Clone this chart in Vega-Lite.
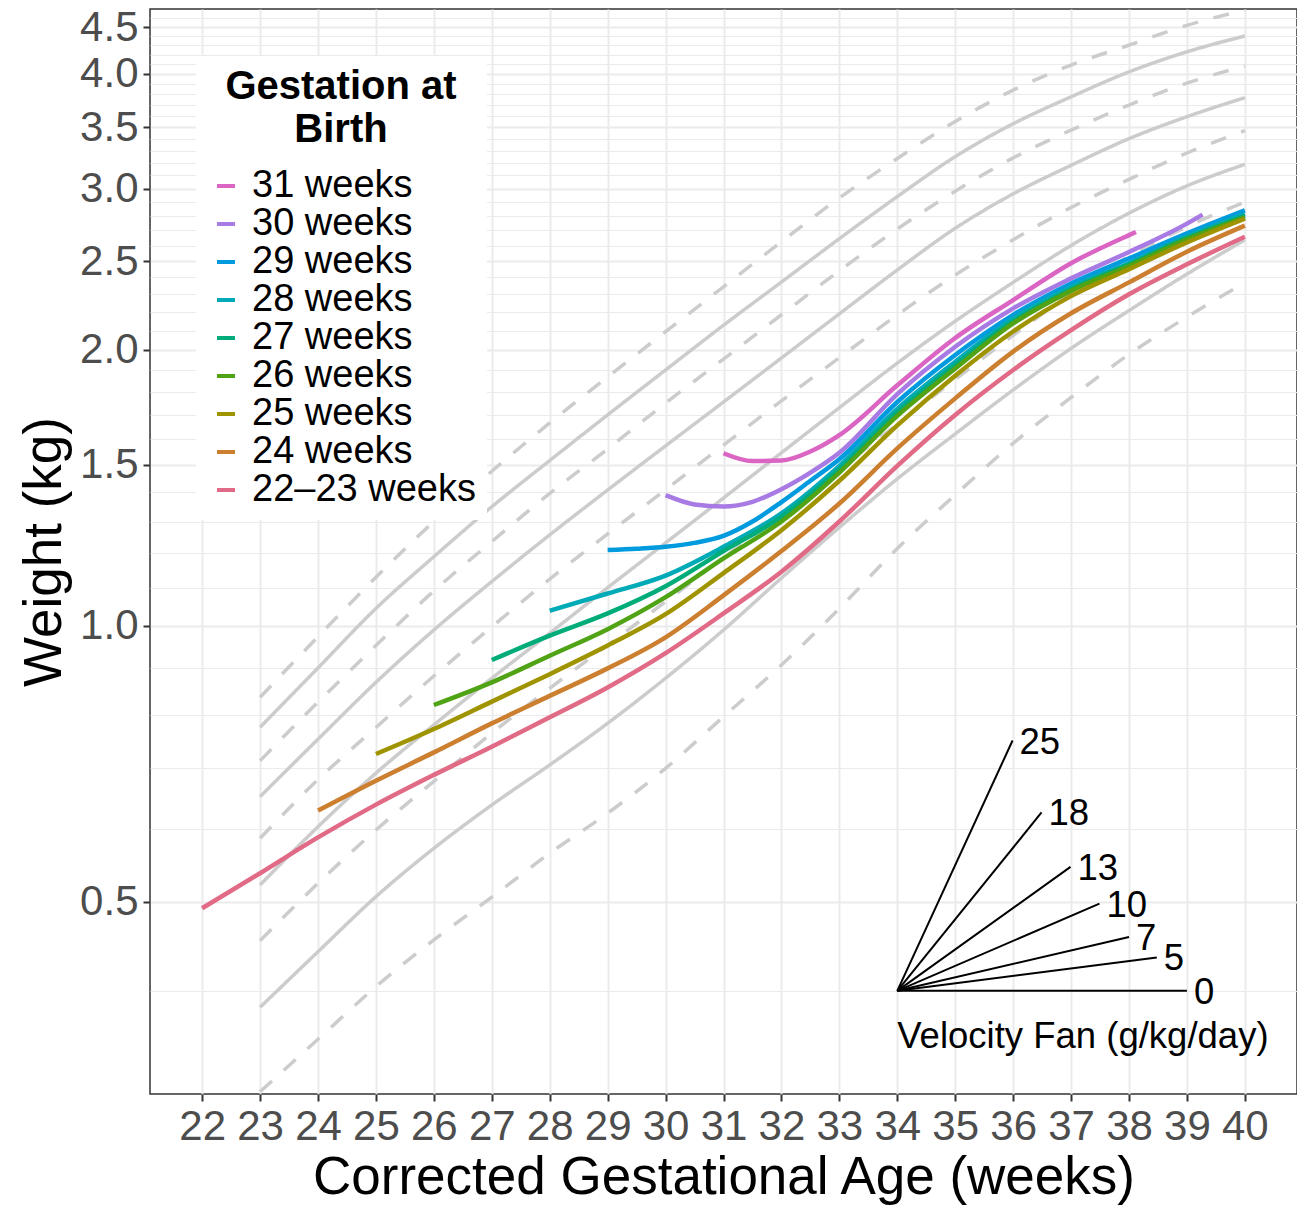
{
  "$schema": "https://vega.github.io/schema/vega-lite/v6.json",
  "width": 1147,
  "height": 1085,
  "autosize": {"type": "none"},
  "padding": {"left": 150, "top": 9, "right": 0, "bottom": 111},
  "background": "white",
  "config": {
    "font": "Liberation Sans",
    "view": {"stroke": "#333333", "strokeWidth": 1.5}
  },
  "datasets": {
    "ref": [
      {"c":"C1","t":"dashed","week":23,"w":0.3105},{"c":"C1","t":"dashed","week":24,"w":0.3542},{"c":"C1","t":"dashed","week":25,"w":0.4042},{"c":"C1","t":"dashed","week":26,"w":0.4546},{"c":"C1","t":"dashed","week":27,"w":0.5061},{"c":"C1","t":"dashed","week":28,"w":0.5651},{"c":"C1","t":"dashed","week":29,"w":0.6248},{"c":"C1","t":"dashed","week":30,"w":0.6995},{"c":"C1","t":"dashed","week":31,"w":0.7963},{"c":"C1","t":"dashed","week":32,"w":0.9067},{"c":"C1","t":"dashed","week":33,"w":1.045},{"c":"C1","t":"dashed","week":34,"w":1.215},{"c":"C1","t":"dashed","week":35,"w":1.39},{"c":"C1","t":"dashed","week":36,"w":1.582},{"c":"C1","t":"dashed","week":37,"w":1.775},{"c":"C1","t":"dashed","week":38,"w":1.978},{"c":"C1","t":"dashed","week":39,"w":2.173},{"c":"C1","t":"dashed","week":40,"w":2.368},
      {"c":"C2","t":"solid","week":23,"w":0.3838},{"c":"C2","t":"solid","week":24,"w":0.4413},{"c":"C2","t":"solid","week":25,"w":0.5067},{"c":"C2","t":"solid","week":26,"w":0.5721},{"c":"C2","t":"solid","week":27,"w":0.6379},{"c":"C2","t":"solid","week":28,"w":0.7054},{"c":"C2","t":"solid","week":29,"w":0.7832},{"c":"C2","t":"solid","week":30,"w":0.877},{"c":"C2","t":"solid","week":31,"w":0.99},{"c":"C2","t":"solid","week":32,"w":1.128},{"c":"C2","t":"solid","week":33,"w":1.281},{"c":"C2","t":"solid","week":34,"w":1.447},{"c":"C2","t":"solid","week":35,"w":1.62},{"c":"C2","t":"solid","week":36,"w":1.809},{"c":"C2","t":"solid","week":37,"w":2.008},{"c":"C2","t":"solid","week":38,"w":2.208},{"c":"C2","t":"solid","week":39,"w":2.42},{"c":"C2","t":"solid","week":40,"w":2.636},
      {"c":"C3","t":"dashed","week":23,"w":0.4537},{"c":"C3","t":"dashed","week":24,"w":0.524},{"c":"C3","t":"dashed","week":25,"w":0.599},{"c":"C3","t":"dashed","week":26,"w":0.677},{"c":"C3","t":"dashed","week":27,"w":0.764},{"c":"C3","t":"dashed","week":28,"w":0.855},{"c":"C3","t":"dashed","week":29,"w":0.953},{"c":"C3","t":"dashed","week":30,"w":1.063},{"c":"C3","t":"dashed","week":31,"w":1.187},{"c":"C3","t":"dashed","week":32,"w":1.325},{"c":"C3","t":"dashed","week":33,"w":1.483},{"c":"C3","t":"dashed","week":34,"w":1.66},{"c":"C3","t":"dashed","week":35,"w":1.858},{"c":"C3","t":"dashed","week":36,"w":2.075},{"c":"C3","t":"dashed","week":37,"w":2.305},{"c":"C3","t":"dashed","week":38,"w":2.53},{"c":"C3","t":"dashed","week":39,"w":2.726},{"c":"C3","t":"dashed","week":40,"w":2.9},
      {"c":"C4","t":"solid","week":23,"w":0.5218},{"c":"C4","t":"solid","week":24,"w":0.604},{"c":"C4","t":"solid","week":25,"w":0.691},{"c":"C4","t":"solid","week":26,"w":0.78},{"c":"C4","t":"solid","week":27,"w":0.877},{"c":"C4","t":"solid","week":28,"w":0.982},{"c":"C4","t":"solid","week":29,"w":1.101},{"c":"C4","t":"solid","week":30,"w":1.232},{"c":"C4","t":"solid","week":31,"w":1.379},{"c":"C4","t":"solid","week":32,"w":1.545},{"c":"C4","t":"solid","week":33,"w":1.73},{"c":"C4","t":"solid","week":34,"w":1.935},{"c":"C4","t":"solid","week":35,"w":2.15},{"c":"C4","t":"solid","week":36,"w":2.37},{"c":"C4","t":"solid","week":37,"w":2.6},{"c":"C4","t":"solid","week":38,"w":2.82},{"c":"C4","t":"solid","week":39,"w":3.02},{"c":"C4","t":"solid","week":40,"w":3.188},
      {"c":"C5","t":"dashed","week":23,"w":0.5868},{"c":"C5","t":"dashed","week":24,"w":0.68},{"c":"C5","t":"dashed","week":25,"w":0.775},{"c":"C5","t":"dashed","week":26,"w":0.882},{"c":"C5","t":"dashed","week":27,"w":0.998},{"c":"C5","t":"dashed","week":28,"w":1.125},{"c":"C5","t":"dashed","week":29,"w":1.26},{"c":"C5","t":"dashed","week":30,"w":1.408},{"c":"C5","t":"dashed","week":31,"w":1.575},{"c":"C5","t":"dashed","week":32,"w":1.76},{"c":"C5","t":"dashed","week":33,"w":1.962},{"c":"C5","t":"dashed","week":34,"w":2.184},{"c":"C5","t":"dashed","week":35,"w":2.414},{"c":"C5","t":"dashed","week":36,"w":2.638},{"c":"C5","t":"dashed","week":37,"w":2.86},{"c":"C5","t":"dashed","week":38,"w":3.07},{"c":"C5","t":"dashed","week":39,"w":3.28},{"c":"C5","t":"dashed","week":40,"w":3.469},
      {"c":"C6","t":"solid","week":23,"w":0.6514},{"c":"C6","t":"solid","week":24,"w":0.7525},{"c":"C6","t":"solid","week":25,"w":0.868},{"c":"C6","t":"solid","week":26,"w":0.99},{"c":"C6","t":"solid","week":27,"w":1.118},{"c":"C6","t":"solid","week":28,"w":1.257},{"c":"C6","t":"solid","week":29,"w":1.407},{"c":"C6","t":"solid","week":30,"w":1.572},{"c":"C6","t":"solid","week":31,"w":1.755},{"c":"C6","t":"solid","week":32,"w":1.96},{"c":"C6","t":"solid","week":33,"w":2.19},{"c":"C6","t":"solid","week":34,"w":2.445},{"c":"C6","t":"solid","week":35,"w":2.715},{"c":"C6","t":"solid","week":36,"w":2.96},{"c":"C6","t":"solid","week":37,"w":3.18},{"c":"C6","t":"solid","week":38,"w":3.4},{"c":"C6","t":"solid","week":39,"w":3.593},{"c":"C6","t":"solid","week":40,"w":3.769},
      {"c":"C7","t":"dashed","week":23,"w":0.713},{"c":"C7","t":"dashed","week":24,"w":0.826},{"c":"C7","t":"dashed","week":25,"w":0.952},{"c":"C7","t":"dashed","week":26,"w":1.092},{"c":"C7","t":"dashed","week":27,"w":1.236},{"c":"C7","t":"dashed","week":28,"w":1.395},{"c":"C7","t":"dashed","week":29,"w":1.56},{"c":"C7","t":"dashed","week":30,"w":1.75},{"c":"C7","t":"dashed","week":31,"w":1.955},{"c":"C7","t":"dashed","week":32,"w":2.185},{"c":"C7","t":"dashed","week":33,"w":2.44},{"c":"C7","t":"dashed","week":34,"w":2.71},{"c":"C7","t":"dashed","week":35,"w":2.98},{"c":"C7","t":"dashed","week":36,"w":3.24},{"c":"C7","t":"dashed","week":37,"w":3.474},{"c":"C7","t":"dashed","week":38,"w":3.7},{"c":"C7","t":"dashed","week":39,"w":3.909},{"c":"C7","t":"dashed","week":40,"w":4.081},
      {"c":"C8","t":"solid","week":23,"w":0.7754},{"c":"C8","t":"solid","week":24,"w":0.9},{"c":"C8","t":"solid","week":25,"w":1.045},{"c":"C8","t":"solid","week":26,"w":1.19},{"c":"C8","t":"solid","week":27,"w":1.349},{"c":"C8","t":"solid","week":28,"w":1.515},{"c":"C8","t":"solid","week":29,"w":1.699},{"c":"C8","t":"solid","week":30,"w":1.902},{"c":"C8","t":"solid","week":31,"w":2.128},{"c":"C8","t":"solid","week":32,"w":2.372},{"c":"C8","t":"solid","week":33,"w":2.645},{"c":"C8","t":"solid","week":34,"w":2.94},{"c":"C8","t":"solid","week":35,"w":3.25},{"c":"C8","t":"solid","week":36,"w":3.53},{"c":"C8","t":"solid","week":37,"w":3.777},{"c":"C8","t":"solid","week":38,"w":4.021},{"c":"C8","t":"solid","week":39,"w":4.229},{"c":"C8","t":"solid","week":40,"w":4.4},
      {"c":"C9","t":"dashed","week":23,"w":0.836},{"c":"C9","t":"dashed","week":24,"w":0.9735},{"c":"C9","t":"dashed","week":25,"w":1.13},{"c":"C9","t":"dashed","week":26,"w":1.3},{"c":"C9","t":"dashed","week":27,"w":1.475},{"c":"C9","t":"dashed","week":28,"w":1.665},{"c":"C9","t":"dashed","week":29,"w":1.869},{"c":"C9","t":"dashed","week":30,"w":2.094},{"c":"C9","t":"dashed","week":31,"w":2.344},{"c":"C9","t":"dashed","week":32,"w":2.625},{"c":"C9","t":"dashed","week":33,"w":2.93},{"c":"C9","t":"dashed","week":34,"w":3.235},{"c":"C9","t":"dashed","week":35,"w":3.55},{"c":"C9","t":"dashed","week":36,"w":3.841},{"c":"C9","t":"dashed","week":37,"w":4.091},{"c":"C9","t":"dashed","week":38,"w":4.3},{"c":"C9","t":"dashed","week":39,"w":4.52},{"c":"C9","t":"dashed","week":40,"w":4.697}
    ],
    "growth": [
      {"g":"31 weeks","week":31,"w":1.543},{"g":"31 weeks","week":31.5,"w":1.513},{"g":"31 weeks","week":32,"w":1.515},{"g":"31 weeks","week":32.5,"w":1.55},{"g":"31 weeks","week":33,"w":1.615},{"g":"31 weeks","week":34,"w":1.83},{"g":"31 weeks","week":35,"w":2.061},{"g":"31 weeks","week":36,"w":2.267},{"g":"31 weeks","week":37,"w":2.487},{"g":"31 weeks","week":38,"w":2.669},{"g":"31 weeks","week":38.12,"w":2.69},
      {"g":"30 weeks","week":30,"w":1.389},{"g":"30 weeks","week":30.5,"w":1.357},{"g":"30 weeks","week":31,"w":1.35},{"g":"30 weeks","week":31.5,"w":1.366},{"g":"30 weeks","week":32,"w":1.41},{"g":"30 weeks","week":32.5,"w":1.47},{"g":"30 weeks","week":33,"w":1.545},{"g":"30 weeks","week":34,"w":1.79},{"g":"30 weeks","week":35,"w":2.016},{"g":"30 weeks","week":36,"w":2.22},{"g":"30 weeks","week":37,"w":2.394},{"g":"30 weeks","week":38,"w":2.558},{"g":"30 weeks","week":39,"w":2.747},{"g":"30 weeks","week":39.27,"w":2.81},
      {"g":"29 weeks","week":29,"w":1.21},{"g":"29 weeks","week":29.5,"w":1.214},{"g":"29 weeks","week":30,"w":1.22},{"g":"29 weeks","week":30.5,"w":1.232},{"g":"29 weeks","week":31,"w":1.254},{"g":"29 weeks","week":31.5,"w":1.3},{"g":"29 weeks","week":32,"w":1.365},{"g":"29 weeks","week":32.5,"w":1.44},{"g":"29 weeks","week":33,"w":1.52},{"g":"29 weeks","week":34,"w":1.755},{"g":"29 weeks","week":35,"w":1.975},{"g":"29 weeks","week":36,"w":2.184},{"g":"29 weeks","week":37,"w":2.363},{"g":"29 weeks","week":38,"w":2.517},{"g":"29 weeks","week":39,"w":2.68},{"g":"29 weeks","week":40,"w":2.84},
      {"g":"28 weeks","week":28,"w":1.039},{"g":"28 weeks","week":29,"w":1.085},{"g":"28 weeks","week":30,"w":1.135},{"g":"28 weeks","week":31,"w":1.22},{"g":"28 weeks","week":32,"w":1.327},{"g":"28 weeks","week":33,"w":1.495},{"g":"28 weeks","week":34,"w":1.725},{"g":"28 weeks","week":35,"w":1.942},{"g":"28 weeks","week":36,"w":2.165},{"g":"28 weeks","week":37,"w":2.343},{"g":"28 weeks","week":38,"w":2.487},{"g":"28 weeks","week":39,"w":2.66},{"g":"28 weeks","week":40,"w":2.815},
      {"g":"27 weeks","week":27,"w":0.918},{"g":"27 weeks","week":28,"w":0.976},{"g":"27 weeks","week":29,"w":1.032},{"g":"27 weeks","week":30,"w":1.105},{"g":"27 weeks","week":31,"w":1.207},{"g":"27 weeks","week":32,"w":1.315},{"g":"27 weeks","week":33,"w":1.482},{"g":"27 weeks","week":34,"w":1.71},{"g":"27 weeks","week":35,"w":1.925},{"g":"27 weeks","week":36,"w":2.15},{"g":"27 weeks","week":37,"w":2.33},{"g":"27 weeks","week":38,"w":2.48},{"g":"27 weeks","week":39,"w":2.65},{"g":"27 weeks","week":40,"w":2.8},
      {"g":"26 weeks","week":26,"w":0.82},{"g":"26 weeks","week":27,"w":0.868},{"g":"26 weeks","week":28,"w":0.928},{"g":"26 weeks","week":29,"w":0.992},{"g":"26 weeks","week":30,"w":1.075},{"g":"26 weeks","week":31,"w":1.185},{"g":"26 weeks","week":32,"w":1.3},{"g":"26 weeks","week":33,"w":1.47},{"g":"26 weeks","week":34,"w":1.695},{"g":"26 weeks","week":35,"w":1.909},{"g":"26 weeks","week":36,"w":2.138},{"g":"26 weeks","week":37,"w":2.32},{"g":"26 weeks","week":38,"w":2.47},{"g":"26 weeks","week":39,"w":2.64},{"g":"26 weeks","week":40,"w":2.79},
      {"g":"25 weeks","week":25,"w":0.725},{"g":"25 weeks","week":26,"w":0.772},{"g":"25 weeks","week":27,"w":0.827},{"g":"25 weeks","week":28,"w":0.886},{"g":"25 weeks","week":29,"w":0.952},{"g":"25 weeks","week":30,"w":1.03},{"g":"25 weeks","week":31,"w":1.142},{"g":"25 weeks","week":32,"w":1.272},{"g":"25 weeks","week":33,"w":1.44},{"g":"25 weeks","week":34,"w":1.655},{"g":"25 weeks","week":35,"w":1.875},{"g":"25 weeks","week":36,"w":2.095},{"g":"25 weeks","week":37,"w":2.29},{"g":"25 weeks","week":38,"w":2.45},{"g":"25 weeks","week":39,"w":2.62},{"g":"25 weeks","week":40,"w":2.781},
      {"g":"24 weeks","week":24,"w":0.629},{"g":"24 weeks","week":25,"w":0.678},{"g":"24 weeks","week":26,"w":0.728},{"g":"24 weeks","week":27,"w":0.783},{"g":"24 weeks","week":28,"w":0.839},{"g":"24 weeks","week":29,"w":0.899},{"g":"24 weeks","week":30,"w":0.972},{"g":"24 weeks","week":31,"w":1.08},{"g":"24 weeks","week":32,"w":1.207},{"g":"24 weeks","week":33,"w":1.36},{"g":"24 weeks","week":34,"w":1.562},{"g":"24 weeks","week":35,"w":1.771},{"g":"24 weeks","week":36,"w":1.992},{"g":"24 weeks","week":37,"w":2.193},{"g":"24 weeks","week":38,"w":2.37},{"g":"24 weeks","week":39,"w":2.56},{"g":"24 weeks","week":40,"w":2.733},
      {"g":"22–23 weeks","week":22,"w":0.4922},{"g":"22–23 weeks","week":23,"w":0.5374},{"g":"22–23 weeks","week":24,"w":0.588},{"g":"22–23 weeks","week":25,"w":0.6385},{"g":"22–23 weeks","week":26,"w":0.688},{"g":"22–23 weeks","week":27,"w":0.7385},{"g":"22–23 weeks","week":28,"w":0.795},{"g":"22–23 weeks","week":29,"w":0.857},{"g":"22–23 weeks","week":30,"w":0.934},{"g":"22–23 weeks","week":31,"w":1.032},{"g":"22–23 weeks","week":32,"w":1.146},{"g":"22–23 weeks","week":33,"w":1.3},{"g":"22–23 weeks","week":34,"w":1.495},{"g":"22–23 weeks","week":35,"w":1.699},{"g":"22–23 weeks","week":36,"w":1.902},{"g":"22–23 weeks","week":37,"w":2.102},{"g":"22–23 weeks","week":38,"w":2.3},{"g":"22–23 weeks","week":39,"w":2.48},{"g":"22–23 weeks","week":40,"w":2.658}
    ],
    "fan": [
      {"x":34,"y":0.4,"x2":39.0,"y2":0.4,"label":"0"},
      {"x":34,"y":0.4,"x2":38.48,"y2":0.435,"label":"5"},
      {"x":34,"y":0.4,"x2":38.0,"y2":0.458,"label":"7"},
      {"x":34,"y":0.4,"x2":37.49,"y2":0.498,"label":"10"},
      {"x":34,"y":0.4,"x2":36.99,"y2":0.546,"label":"13"},
      {"x":34,"y":0.4,"x2":36.49,"y2":0.626,"label":"18"},
      {"x":34,"y":0.4,"x2":35.99,"y2":0.75,"label":"25"}
    ],
    "fantitle": [
      {"x":34,"y":0.356,"label":"Velocity Fan (g/kg/day)"}
    ]
  },
  "layer": [
    {
      "data": {"name": "ref"},
      "mark": {"type": "line", "interpolate": "monotone", "color": "#CCCCCC", "strokeWidth": 3.5, "clip": true, "strokeCap": "butt"},
      "encoding": {
        "x": {
          "field": "week", "type": "quantitative",
          "scale": {"domain": [21.1, 40.9], "nice": false, "zero": false},
          "axis": {
            "title": "Corrected Gestational Age (weeks)",
            "values": [22,23,24,25,26,27,28,29,30,31,32,33,34,35,36,37,38,39,40],
            "format": "d",
            "domain": false,
            "grid": true, "gridColor": "#EBEBEB", "gridWidth": 2,
            "ticks": true, "tickColor": "#333333", "tickSize": 7, "tickWidth": 2,
            "labelFont": "Liberation Sans", "labelFontSize": 42, "labelColor": "#4D4D4D", "labelPadding": 5,
            "labelOverlap": false, "labelFlush": false,
            "titleFont": "Liberation Sans", "titleFontSize": 53, "titleFontWeight": "normal", "titleColor": "black", "titlePadding": 4
          }
        },
        "y": {
          "field": "w", "type": "quantitative",
          "scale": {"type": "log", "domain": [0.3087, 4.709], "nice": false, "zero": false},
          "axis": {
            "title": "Weight (kg)",
            "values": [0.4,0.5,0.6,0.7,0.8,0.9,1,1.1,1.2,1.3,1.4,1.5,1.6,1.7,1.8,1.9,2,2.1,2.2,2.3,2.4,2.5,2.6,2.7,2.8,2.9,3,3.1,3.2,3.3,3.4,3.5,3.6,3.7,3.8,3.9,4,4.1,4.2,4.3,4.4,4.5,4.6],
            "labelExpr": "abs(datum.value*2 - round(datum.value*2)) < 0.001 ? format(datum.value, '.1f') : ''",
            "domain": false,
            "grid": true, "gridColor": "#EBEBEB",
            "gridWidth": {"condition": {"test": "abs(datum.value*2 - round(datum.value*2)) < 0.001", "value": 2}, "value": 1},
            "tickColor": "#333333", "tickSize": 7, "tickWidth": 2,
            "tickOpacity": {"condition": {"test": "abs(datum.value*2 - round(datum.value*2)) < 0.001", "value": 1}, "value": 0},
            "labelFont": "Liberation Sans", "labelFontSize": 42, "labelColor": "#4D4D4D", "labelPadding": 5,
            "labelOverlap": false, "labelFlush": false,
            "titleFont": "Liberation Sans", "titleFontSize": 53, "titleFontWeight": "normal", "titleColor": "black", "titlePadding": 8
          }
        },
        "detail": {"field": "c", "type": "nominal"},
        "strokeDash": {"field": "t", "type": "nominal", "scale": {"domain": ["solid", "dashed"], "range": [[1, 0], [16, 16]]}, "legend": null}
      }
    },
    {
      "data": {"name": "growth"},
      "mark": {"type": "line", "interpolate": "monotone", "strokeWidth": 4.5, "clip": true},
      "encoding": {
        "x": {"field": "week", "type": "quantitative"},
        "y": {"field": "w", "type": "quantitative"},
        "color": {
          "field": "g", "type": "nominal",
          "scale": {
            "domain": ["31 weeks","30 weeks","29 weeks","28 weeks","27 weeks","26 weeks","25 weeks","24 weeks","22–23 weeks"],
            "range": ["#DA65C3","#A87BE4","#009ADE","#00AAB7","#00AC79","#50A315","#9F9400","#CB7F2F","#E16A86"]
          },
          "legend": {
            "title": ["Gestation at", "Birth"],
            "orient": "none", "legendX": 46, "legendY": 47,
            "fillColor": "white", "padding": 11,
            "titleFont": "Liberation Sans", "titleFontSize": 40, "titleFontWeight": "bold", "titleColor": "black",
            "titleAnchor": "middle", "titleAlign": "center", "titleLineHeight": 43, "titlePadding": 17, "titleLimit": 600,
            "labelFont": "Liberation Sans", "labelFontSize": 38, "labelColor": "black", "labelOffset": 7, "labelLimit": 600,
            "symbolType": "stroke", "symbolSize": 324, "symbolStrokeWidth": 4,
            "rowPadding": 0
          }
        }
      }
    },
    {
      "data": {"name": "fan"},
      "mark": {"type": "rule", "color": "black", "strokeWidth": 2},
      "encoding": {
        "x": {"field": "x", "type": "quantitative"},
        "y": {"field": "y", "type": "quantitative"},
        "x2": {"field": "x2"},
        "y2": {"field": "y2"}
      }
    },
    {
      "data": {"name": "fan"},
      "mark": {"type": "text", "align": "left", "baseline": "middle", "dx": 7, "dy": 2, "fontSize": 36.5, "font": "Liberation Sans", "color": "black"},
      "encoding": {
        "x": {"field": "x2", "type": "quantitative"},
        "y": {"field": "y2", "type": "quantitative"},
        "text": {"field": "label"}
      }
    },
    {
      "data": {"name": "fantitle"},
      "mark": {"type": "text", "align": "left", "baseline": "middle", "fontSize": 36.5, "font": "Liberation Sans", "color": "black"},
      "encoding": {
        "x": {"field": "x", "type": "quantitative"},
        "y": {"field": "y", "type": "quantitative"},
        "text": {"field": "label"}
      }
    }
  ]
}
